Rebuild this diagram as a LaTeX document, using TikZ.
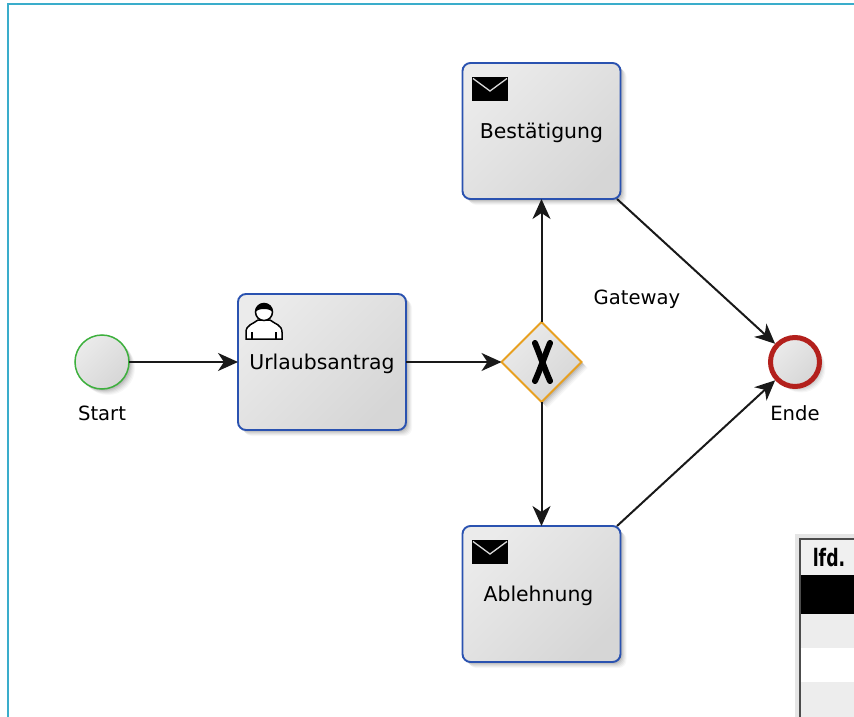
\documentclass[tikz,border=0pt]{standalone}
\usepackage{fontspec}
\setmainfont{DejaVu Sans}
\usetikzlibrary{arrows.meta,shapes.geometric,shadows}
\definecolor{framecol}{HTML}{3AADCB}
\definecolor{taskcol}{HTML}{2A52B0}
\definecolor{startcol}{HTML}{3DB03D}
\definecolor{gatecol}{HTML}{E8A020}
\definecolor{endcol}{HTML}{B3201C}
\tikzset{
  softshadow/.style={
    drop shadow={shadow xshift=6pt,shadow yshift=-6pt,opacity=.03,fill=black},
    drop shadow={shadow xshift=5pt,shadow yshift=-5pt,opacity=.04,fill=black},
    drop shadow={shadow xshift=4pt,shadow yshift=-4pt,opacity=.05,fill=black},
    drop shadow={shadow xshift=3pt,shadow yshift=-3pt,opacity=.06,fill=black},
    drop shadow={shadow xshift=2pt,shadow yshift=-2pt,opacity=.08,fill=black},
    drop shadow={shadow xshift=1pt,shadow yshift=-1pt,opacity=.08,fill=black}},
  bodyfill/.style={shading=axis,top color=white!92!black,bottom color=white!84!black,shading angle=45},
  task/.style={draw=taskcol,line width=1.9pt,rounded corners=8pt,minimum width=#1,minimum height=136pt,
    inner sep=0pt,outer sep=0pt,bodyfill,softshadow,text depth=0pt,font=\fontsize{20.4}{24}\selectfont},
  task/.default=158pt,
  gate/.style={diamond,draw=gatecol,line width=1.8pt,minimum width=80pt,minimum height=80pt,inner sep=0pt,outer sep=0pt,
    bodyfill,softshadow},
  startev/.style={circle,draw=startcol,line width=1.5pt,minimum size=54pt,inner sep=0pt,outer sep=0pt,bodyfill,softshadow},
  endev/.style={circle,draw=endcol,line width=5pt,minimum size=49pt,inner sep=0pt,outer sep=2.5pt,bodyfill,softshadow},
  lbl/.style={inner sep=0pt,font=\fontsize{19.6}{24}\selectfont},
  flow/.style={line width=2pt,black!90},
  pics/mailicon/.style={code={
    \fill[black] (0,0) rectangle (36,24);
    \draw[white!85!black,line width=1.3pt] (1,1.5) -- (18,14) -- (35,1.5);
  }},
  pics/usericon/.style={code={
    \draw[line width=1.5pt,fill=white] (-18,27) -- (-18,20) .. controls (-18,13) and (-11,12) .. (-6,8)
      -- (6,8) .. controls (11,12) and (18,13) .. (18,20) -- (18,27) -- cycle;
    \draw[line width=1.2pt] (-12,20) -- (-12,27) (12,20) -- (12,27);
    \draw[line width=1.5pt,fill=white] (0,0) circle (8.5);
    \fill[black] (-8.5,0) arc[start angle=180,end angle=360,radius=8.5] .. controls (6,-4) and (-6,-4) .. cycle;
  }}
}
\begin{document}
\begin{tikzpicture}[x=1pt,y=-1pt,>={Stealth[length=20pt,width=18pt,inset=6pt]}]
  \useasboundingbox (0,0) rectangle (854,717);
  % outer frame
  \draw[framecol,line width=2.4pt] (8,717) -- (8,4) -- (854,4);

  % flow elements
  \node[startev] (start) at (102,362) {};
  \node[task=168pt] (antrag) at (322,362) {Urlaubsantrag};
  \node[gate] (xor) at (541.5,362) {};
  \node[task] (best) at (541.5,131) {Bestätigung};
  \node[task] (abl) at (541.5,594) {Ablehnung\hspace*{6pt}};
  \node[endev] (ende) at (795,362) {};

  \node[lbl] (startlbl) at (102,413) {Start};
  \node[lbl] (endelbl) at (795,413) {Ende};
  \node[lbl] (gatelbl) at (637,299) {Gateway};

  % icons
  \path (472,77) pic {mailicon};
  \path (472,540) pic {mailicon};
  \path (264,312) pic {usericon};
  \draw[line width=6pt,line cap=round] (535,343) .. controls (540,355) and (545,370) .. (550,381);
  \draw[line width=6pt,line cap=round] (550,343) .. controls (545,355) and (540,370) .. (535,381);

  % sequence flows
  \draw[->,flow] (start) -- (antrag);
  \draw[->,flow] (antrag) -- (xor);
  \draw[->,flow] (xor) -- (best);
  \draw[->,flow] (xor) -- (abl);
  \draw[->,flow] (best.-42) -- (ende);
  \draw[->,flow] (abl.42) -- (ende);

  % table in the corner
  \fill[black!10] (795,534) rectangle (854,717);
  \fill[white] (801,540) rectangle (854,717);
  \fill[black!6] (801,540) rectangle (854,575);
  \fill[black] (801,575) rectangle (854,614);
  \fill[black!7] (801,614) rectangle (854,648);
  \fill[black!7] (801,682) rectangle (854,717);
  \draw[black!70,line width=2pt] (800,717) -- (800,539) -- (854,539);
  \node[font=\bfseries\fontsize{24}{26}\selectfont,inner sep=0pt,xscale=.72,transform shape] (lfd) at (829,558) {lfd.};
\end{tikzpicture}
\end{document}
